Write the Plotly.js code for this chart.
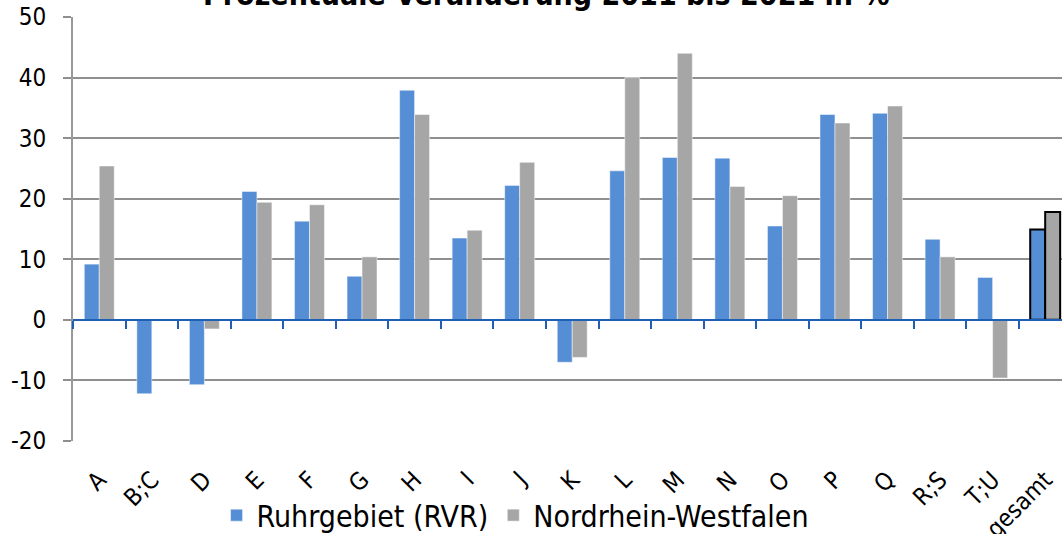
<!DOCTYPE html>
<html>
<head>
<meta charset="utf-8">
<script src="https://cdn.plot.ly/plotly-3.0.1.min.js"></script>
<style>html,body{margin:0;padding:0;background:#fff;overflow:hidden}#chart{width:1062px;height:534px}</style>
</head>
<body>
<div id="chart"></div>
<script>
const categories = ["A","B;C","D","E","F","G","H","I","J","K","L","M","N","O","P","Q","R;S","T;U","gesamt"];
const ruhr = [9.2,-12.2,-10.7,21.2,16.3,7.2,37.9,13.5,22.2,-7.0,24.6,26.8,26.7,15.5,33.9,34.1,13.3,7.0,14.9];
const nrw  = [25.4,0,-1.5,19.4,19.0,10.4,33.9,14.8,26.0,-6.2,40.0,44.0,22.0,20.5,32.5,35.3,10.4,-9.6,17.8];
const seriesNames = ["Ruhrgebiet (RVR)","Nordrhein-Westfalen"];
const titleText = "Prozentuale Veränderung 2011 bis 2021 in %";
const yTicks = [-20,-10,0,10,20,30,40,50];
const yTickText = ["-20","-10","0","10","20","30","40","50"];

const n = categories.length;
const lineW = categories.map((c,i)=> i===n-1 ? 2 : 0.8);
const lineC = categories.map((c,i)=> i===n-1 ? '#000000' : 'rgba(255,255,255,0.6)');
const boundaries = categories.map((c,i)=> i-0.5);

const font = "DejaVu Sans Condensed, DejaVu Sans, sans-serif";
const data = [
  {type:'bar', x:categories, y:ruhr, name:seriesNames[0],
   marker:{color:'#558ed5', line:{color:lineC, width:lineW}}},
  {type:'bar', x:categories, y:nrw, name:seriesNames[1],
   marker:{color:'#a6a6a6', line:{color:lineC, width:lineW}}},
  {type:'scatter', x:[0], y:[null], xaxis:'x2', yaxis:'y', showlegend:false, hoverinfo:'skip'}
];
const layout = {
  width:1062, height:534,
  margin:{l:73, r:0, t:17, b:93},
  paper_bgcolor:'#fff', plot_bgcolor:'#fff',
  barmode:'group', bargap:0.43, bargroupgap:0,
  font:{family:font, size:22, color:'#000'},
  showlegend:true,
  legend:{orientation:'h', xref:'container', yref:'container', x:0.485, xanchor:'center', y:0.084, yanchor:'top',
          bgcolor:'rgba(0,0,0,0)',
          font:{family:font, size:30, color:'#000'}, itemwidth:30, tracegroupgap:0},
  xaxis:{type:'category', range:[-0.5,18.32], tickangle:-45, showgrid:false,
         showline:false, ticks:'', zeroline:false, tickfont:{family:font,size:24},
         ticklabelstandoff:19, automargin:false},
  xaxis2:{overlaying:'x', anchor:'free', position:20/70, range:[-0.5,18.32],
          showline:true, linecolor:'#1f5fb4', linewidth:2, ticks:'outside',
          tickvals:boundaries, ticklen:8, tickwidth:2, tickcolor:'#1f5fb4',
          showticklabels:false, showgrid:false, zeroline:false},
  yaxis:{range:[-20,50], tickvals:yTicks, ticktext:yTickText, showgrid:true, gridcolor:'#8f8f8f', gridwidth:2,
         zeroline:false, showline:true, linecolor:'#999', linewidth:2,
         ticks:'outside', ticklen:8, tickcolor:'#8f8f8f', tickwidth:2,
         ticklabelstandoff:12, tickfont:{family:font,size:24}, automargin:false},
  annotations:[{text:'<b>'+titleText+'</b>', xref:'paper', yref:'paper', x:0.478, xanchor:'center',
                y:1, yshift:3, yanchor:'bottom', showarrow:false,
                font:{family:font, size:30, color:'#000'}}]
};
Plotly.newPlot('chart', data, layout, {displayModeBar:false, staticPlot:true});
</script>
</body>
</html>
